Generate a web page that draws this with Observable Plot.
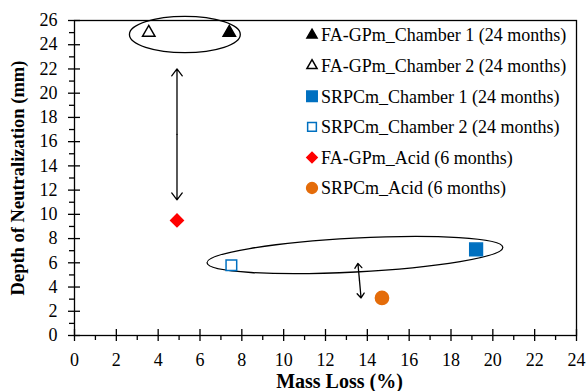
<!DOCTYPE html>
<html><head><meta charset="utf-8">
<script src="https://cdn.jsdelivr.net/npm/d3@7"></script>
<script src="https://cdn.jsdelivr.net/npm/@observablehq/plot@0.6"></script>
<style>
body{margin:0;background:#fff}
svg, svg text{font-family:"Liberation Serif","Times New Roman",Times,"DejaVu Serif",serif !important;}
</style>
</head><body><div id="chart"></div>
<script>
// ---- data ----
const seriesNames = [
  "FA-GPm_Chamber 1 (24 months)",
  "FA-GPm_Chamber 2 (24 months)",
  "SRPCm_Chamber 1 (24 months)",
  "SRPCm_Chamber 2 (24 months)",
  "FA-GPm_Acid (6 months)",
  "SRPCm_Acid (6 months)"
];
const massLoss = [7.4, 3.55, 19.2, 7.5, 4.9, 14.7];
const depth = [25, 25, 7.1, 5.8, 9.5, 3.1];
const symbols = ["triangle", "triangle", "square", "square", "diamond2", "circle"];
const fills = ["#000000", "#ffffff", "#0070C0", "#ffffff", "#FF0000", "#E46C0A"];
const strokes = ["#000000", "#000000", "#0070C0", "#0070C0", "#FF0000", "#E46C0A"];
const radii = [4.6, 4.6, 7.2, 6.0, 5.7, 6.6];

const xMajor = [0, 2, 4, 6, 8, 10, 12, 14, 16, 18, 20, 22, 24];
const xMinor = [1, 3, 5, 7, 9, 11, 13, 15, 17, 19, 21, 23];
const yMajor = [0, 2, 4, 6, 8, 10, 12, 14, 16, 18, 20, 22, 24, 26];
const yMinor = [1, 3, 5, 7, 9, 11, 13, 15, 17, 19, 21, 23, 25];

// annotations
const ellipseCx = [5.3, 13.43];
const ellipseCy = [24.8, 6.6];
const ellipseRx = [2.65, 7.08];
const ellipseRy = [1.5, 1.4];
const ellipseAngle = [0, -3];

const arrowX1 = [4.9, 13.55];
const arrowY1 = [22.0, 5.95];
const arrowX2 = [4.9, 13.7];
const arrowY2 = [11.2, 3.1];

const FONT = '"Liberation Serif","Times New Roman",Times,serif';

// ---- build ----
const points = seriesNames.map((name, i) => ({
  name, x: massLoss[i], y: depth[i], symbol: symbols[i], fill: fills[i], stroke: strokes[i], r: radii[i]
}));

const arrowHalves = [];
arrowX1.forEach((_, i) => {
  const mx = (arrowX1[i] + arrowX2[i]) / 2, my = (arrowY1[i] + arrowY2[i]) / 2;
  arrowHalves.push({x1: mx, y1: my, x2: arrowX1[i], y2: arrowY1[i]});
  arrowHalves.push({x1: mx, y1: my, x2: arrowX2[i], y2: arrowY2[i]});
});

function ellipsesMark(index, scales, values, dim) {
  const g = d3.create("svg:g");
  ellipseCx.forEach((_, i) => {
    const cx = scales.x(ellipseCx[i]), cy = scales.y(ellipseCy[i]);
    const rx = scales.x(ellipseCx[i] + ellipseRx[i]) - cx;
    const ry = cy - scales.y(ellipseCy[i] + ellipseRy[i]);
    g.append("ellipse")
      .attr("cx", cx).attr("cy", cy).attr("rx", rx).attr("ry", ry)
      .attr("transform", `rotate(${ellipseAngle[i]} ${cx} ${cy})`)
      .attr("fill", "none").attr("stroke", "#000").attr("stroke-width", 1.3);
  });
  return g.node();
}

const symbolMap = {triangle: d3.symbolTriangle, square: d3.symbolSquare, diamond2: d3.symbolDiamond2, circle: d3.symbolCircle};

function legendMark(index, scales, values, dim) {
  const g = d3.create("svg:g");
  const x0 = dim.marginLeft + 238;
  const y0 = dim.marginTop + 15;
  const step = 30.6;
  points.forEach((p, i) => {
    const r = p.r * 0.82;
    g.append("path")
      .attr("d", d3.symbol(symbolMap[p.symbol], Math.PI * r * r)())
      .attr("transform", `translate(${x0},${y0 + i * step})`)
      .attr("fill", p.fill).attr("stroke", p.stroke).attr("stroke-width", 1.5);
    g.append("text")
      .attr("x", x0 + 9).attr("y", y0 + i * step)
      .attr("dy", "0.35em")
      .attr("text-anchor", "start")
      .style("font-family", FONT).style("font-size", "18px")
      .attr("fill", "#000")
      .text(p.name);
  });
  return g.node();
}

const chart = Plot.plot({
  width: 588,
  height: 391,
  marginLeft: 74,
  marginRight: 12,
  marginTop: 20,
  marginBottom: 56,
  style: {fontFamily: FONT, background: "#fff", color: "#000"},
  x: {domain: [0, 24]},
  y: {domain: [0, 26]},
  marks: [
    Plot.frame({stroke: "#000", strokeWidth: 1.3}),
    // y axis
    Plot.axisY({ticks: yMajor, tickSize: 6, tickPadding: 11, fontSize: 18, label: null, strokeWidth: 1.3}),
    Plot.axisY({ticks: yMajor, tickSize: 6, dx: 6, tickFormat: () => "", label: null, strokeWidth: 1.3}),
    Plot.axisY({ticks: yMinor, tickSize: 5, tickFormat: () => "", label: null, strokeWidth: 1.3}),
    // x axis
    Plot.axisX({ticks: xMajor, tickSize: 6, tickPadding: 12, fontSize: 18, label: null, strokeWidth: 1.3}),
    Plot.axisX({ticks: xMajor, tickSize: 6, dy: -6, tickFormat: () => "", label: null, strokeWidth: 1.3}),
    Plot.axisX({ticks: xMinor, tickSize: 5, tickFormat: () => "", label: null, strokeWidth: 1.3}),
    // titles
    Plot.text(["Mass Loss (%)"], {frameAnchor: "bottom", textAnchor: "middle", lineAnchor: "middle", dy: 46, dx: 14, fontSize: 20, fontWeight: "bold", fill: "#000"}),
    Plot.text(["Depth of Neutralization (mm)"], {frameAnchor: "left", textAnchor: "middle", lineAnchor: "middle", dx: -56, rotate: -90, fontSize: 18.5, fontWeight: "bold", fill: "#000"}),
    // annotations
    ellipsesMark,
    Plot.arrow(arrowHalves, {x1: "x1", y1: "y1", x2: "x2", y2: "y2", bend: 0, headLength: 10, headAngle: 75, stroke: "#000", strokeWidth: 1.3}),
    // points
    ...points.map(p => Plot.dot([p], {x: "x", y: "y", symbol: p.symbol, r: p.r, fill: p.fill, stroke: p.stroke, strokeWidth: 1.5})),
    legendMark
  ]
});
document.getElementById("chart").append(chart);
</script>
</body></html>
